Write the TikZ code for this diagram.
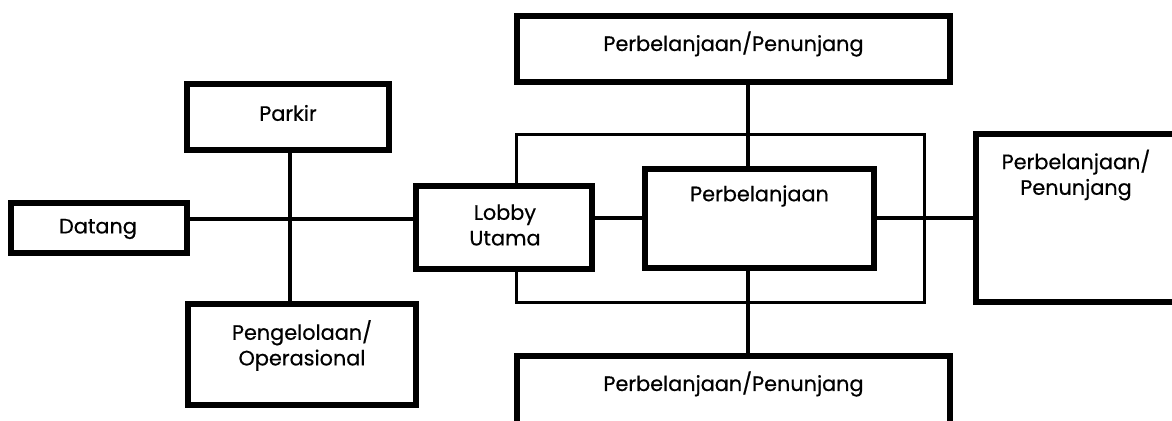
\documentclass[tikz,border=0pt]{standalone}
\usepackage{fontspec}
\setmainfont{Poppins}[FakeBold=0.5]
\begin{document}
\begin{tikzpicture}[x=0.5pt,y=-0.5pt,
  box/.style={draw,line width=2.6pt,fill=white,rectangle,inner sep=0pt,
    minimum width=#1},
  lbl/.style={font=\fontsize{10.4}{12.8}\selectfont,align=center,inner sep=0pt},
  link/.style={line width=1.6pt},
  frame/.style={line width=1.5pt}]
\clip (0,0) rectangle (1172,421);
\fill[white] (0,0) rectangle (1172,421);

% hubs for the straight connector runs
\coordinate (hub) at (290,219);
\coordinate (axis) at (748,218);

% thin frame around the shopping core
\draw[frame] (516,135) rectangle (924,303);

% boxes
\node[box=202pt/2, minimum height=33pt] (parkir) at (288,117) {};
\node[box=176pt/2, minimum height=25pt] (datang) at (99,228) {};
\node[box=228pt/2, minimum height=50.5pt] (peng) at (302,354.5) {};
\node[box=433pt/2, minimum height=33pt] (top) at (733.5,49) {};
\node[box=176pt/2, minimum height=41.5pt] (lobby) at (504,227.5) {};
\node[box=229pt/2, minimum height=49.5pt] (perb) at (759.5,218.5) {};
\node[box=260pt/2, minimum height=84pt] (right) at (1106,218) {};
\node[box=433pt/2, minimum height=60pt] (bottom) at (733.5,416) {};

% labels
\node[lbl] (tparkir) at (288,113) {Parkir};
\node[lbl] (tdatang) at (98,229) {Datang};
\node[lbl] (tpeng) at (302,345.5) {Pengelolaan/\\Operasional};
\node[lbl] (ttop) at (733.5,44) {Perbelanjaan/Penunjang};
\node[lbl] (tlobby) at (505,225) {Lobby\\Utama};
\node[lbl] (tperb) at (759.5,196) {Perbelanjaan};
\node[lbl] (tright) at (1076,175) {Perbelanjaan/\\Penunjang};
\node[lbl] (tbottom) at (733.5,384) {Perbelanjaan/Penunjang};

% connectors
\draw[link] (datang.east |- hub) -- (lobby.west |- hub);
\draw[link] (hub |- parkir.south) -- (hub |- peng.north);
\draw[link] (lobby.east |- axis) -- (perb.west |- axis);
\draw[link] (perb.east |- axis) -- (right.west |- axis);
\draw[link] (axis |- top.south) -- (axis |- perb.north);
\draw[link] (axis |- perb.south) -- (axis |- bottom.north);
\end{tikzpicture}
\end{document}
